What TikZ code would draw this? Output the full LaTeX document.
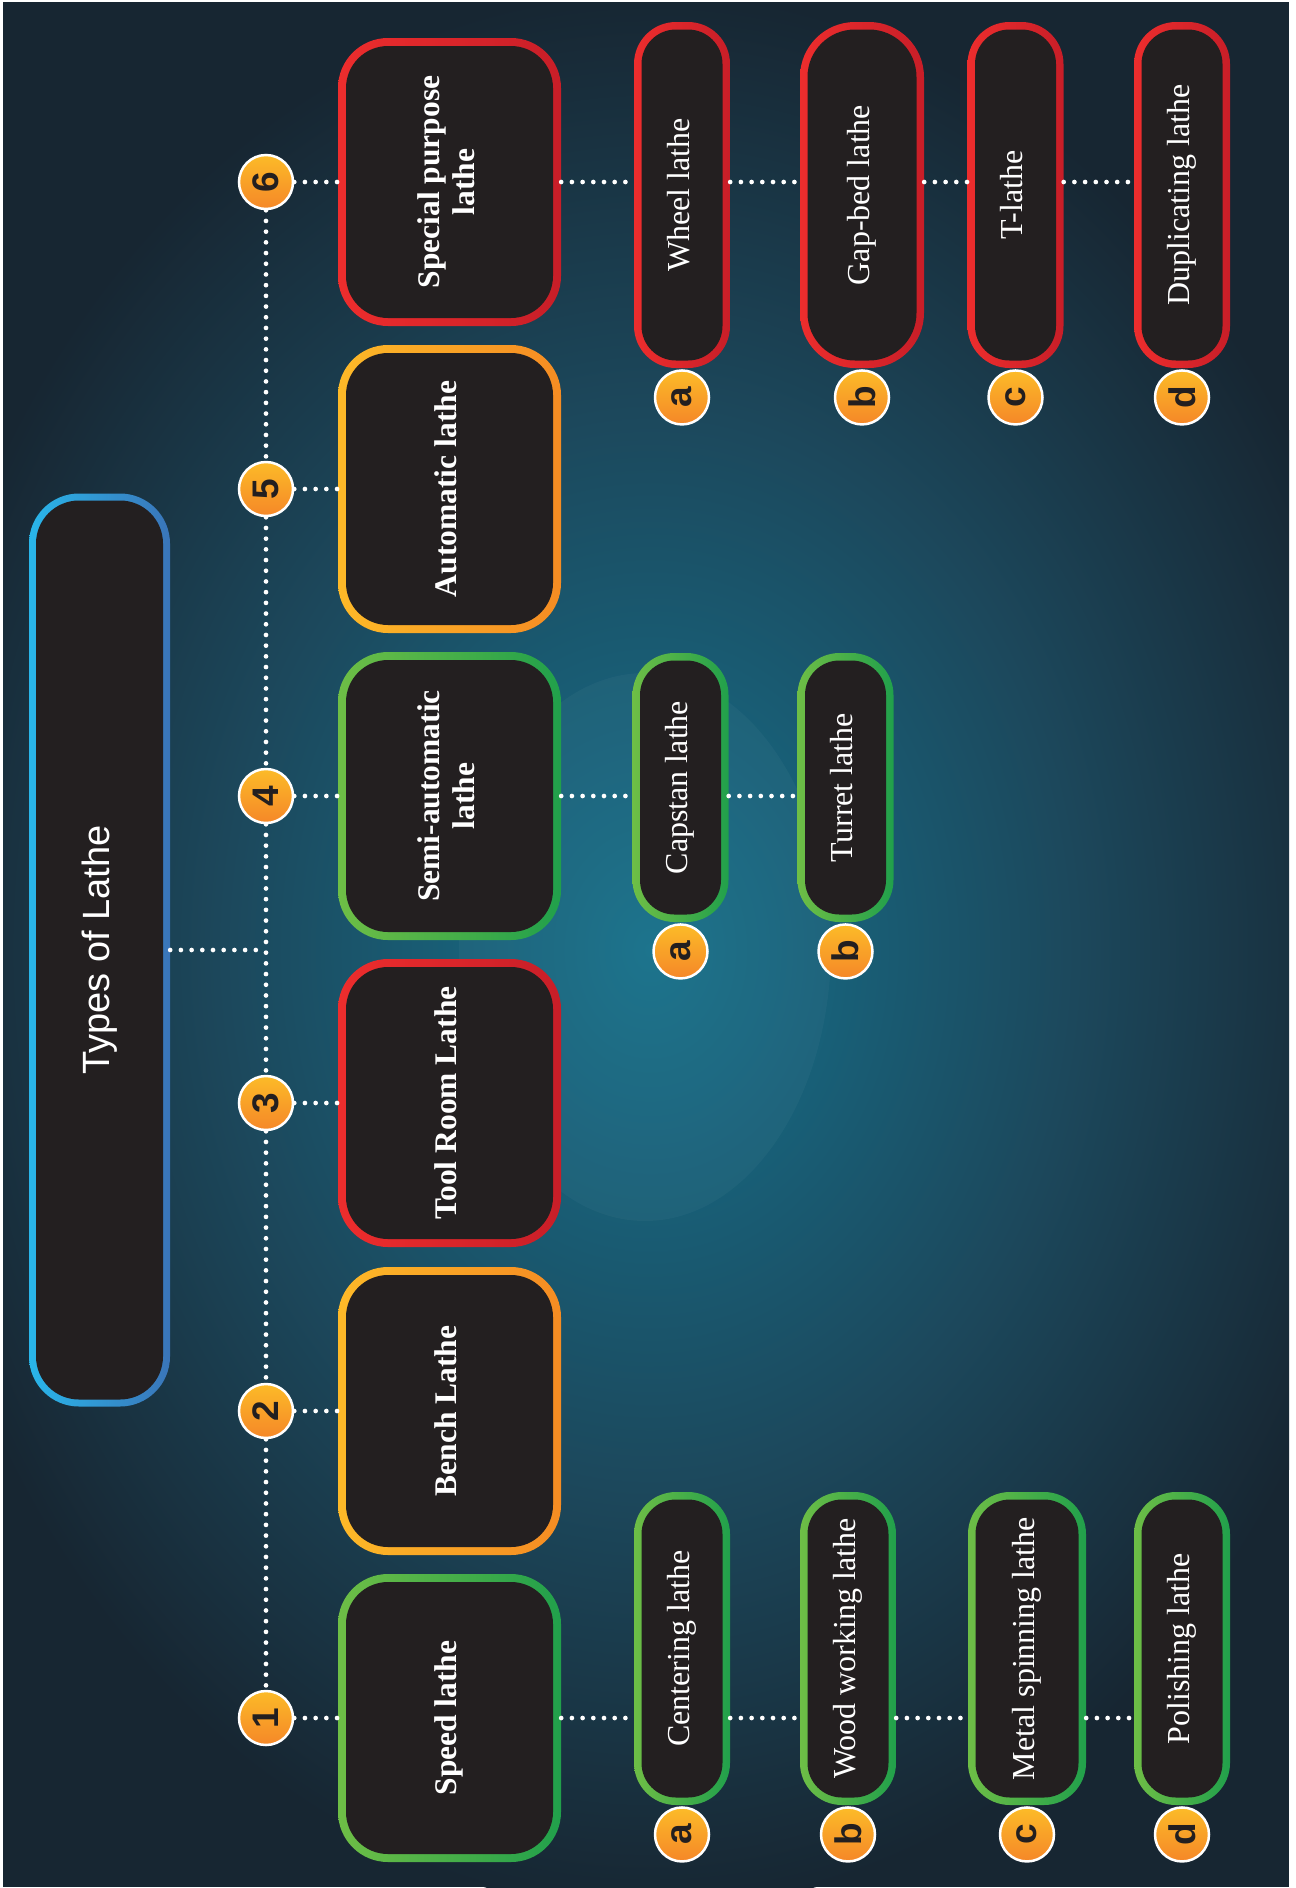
\documentclass[tikz,border=0pt]{standalone}
\usepackage{fontspec}
\usepackage{graphicx}
\setmainfont{Liberation Serif}
\newfontfamily\labelsans{Liberation Sans}
\usetikzlibrary{positioning}

\definecolor{boxfill}{RGB}{35,31,32}
\definecolor{bgdark}{RGB}{23,38,50}
\definecolor{glowA}{RGB}{22,112,138}
\definecolor{glowB}{RGB}{24,96,120}
\definecolor{glowC}{RGB}{28,72,92}
\definecolor{grnL}{RGB}{110,190,70}
\definecolor{grnR}{RGB}{33,160,75}
\definecolor{orgL}{RGB}{253,185,40}
\definecolor{orgR}{RGB}{245,140,35}
\definecolor{redL}{RGB}{237,45,45}
\definecolor{redR}{RGB}{200,30,40}
\definecolor{bluL}{RGB}{41,182,234}
\definecolor{bluR}{RGB}{58,117,185}
\definecolor{dotT}{RGB}{252,187,40}
\definecolor{dotB}{RGB}{245,135,40}

\pgfdeclareradialshading{glow}{\pgfpoint{0bp}{0bp}}{color(0bp)=(glowA); color(6bp)=(glowB); color(14bp)=(glowC); color(25bp)=(bgdark); color(50bp)=(bgdark)}

\newcommand{\vtext}[1]{\rotatebox{90}{\begin{tabular}{@{}c@{}}#1\end{tabular}}}

\tikzset{
  framed/.style n args={2}{rounded corners=#1,
    path picture={\fill[boxfill, rounded corners=#1-#2]
      ([shift={(#2,#2)}]path picture bounding box.south west) rectangle
      ([shift={(-#2,-#2)}]path picture bounding box.north east);}},
  greenedge/.style={left color=grnL, right color=grnR},
  orangeedge/.style={left color=orgL, right color=orgR},
  rededge/.style={left color=redL, right color=redR},
  blueedge/.style={left color=bluL, right color=bluR},
  titlebox/.style={rectangle, framed={50pt}{7pt}, blueedge, minimum width=141pt,
    minimum height=913pt, inner sep=0pt, text=white, font=\labelsans\fontsize{38}{44}\selectfont},
  catbox/.style={rectangle, framed={50pt}{8pt}, minimum width=223pt, minimum height=288pt,
    inner sep=0pt, text=white, font=\fontsize{31.5}{35}\selectfont\bfseries},
  subbox/.style={rectangle, framed={42pt}{7.5pt}, minimum width=96pt, inner sep=0pt,
    text=white, font=\fontsize{32}{36}\selectfont},
  numdot/.style={circle, draw=white, line width=2.5pt, top color=dotT, bottom color=dotB,
    minimum size=54pt, inner sep=0pt, text=boxfill, font=\labelsans\bfseries\fontsize{37}{37}\selectfont},
  dots/.style={draw=white, line width=4.7pt, line cap=round, dash pattern=on 0pt off 10.7pt},
}

\begin{document}
\begin{tikzpicture}[x=1pt, y=-1pt]
    \useasboundingbox (0,0) rectangle (1296,1888);
    \fill[white] (0,0) rectangle (1296,1888);
    \begin{scope}
      \clip (3,2) rectangle (1289,1887);
      \fill[bgdark] (3,2) rectangle (1289,1887);
      \shade[shading=glow] (650,950) ellipse [x radius=760, y radius=960];
      \fill[white, opacity=0.03] (645,947) ellipse [x radius=186, y radius=274];
    \end{scope}

    % title
    \node[titlebox] (title) at (99.5,950) {\rotatebox{90}{Types of Lathe}};
    \coordinate (hub) at (266,950);

    % main types
    \node[catbox, rededge] (special) at (449.5,182) {\vtext{Special purpose\\lathe}};
    \node[catbox, orangeedge] (automatic) at (449.5,489) {\vtext{Automatic lathe}};
    \node[catbox, greenedge] (semiauto) at (449.5,796) {\vtext{Semi-automatic\\lathe}};
    \node[catbox, rededge] (toolroom) at (449.5,1103) {\vtext{Tool Room Lathe}};
    \node[catbox, orangeedge] (bench) at (449.5,1411) {\vtext{Bench Lathe}};
    \node[catbox, greenedge] (speed) at (449.5,1718) {\vtext{Speed lathe}};

    \node[numdot] (n6) at (266,182) {\rotatebox{90}{6}};
    \node[numdot] (n5) at (266,489) {\rotatebox{90}{5}};
    \node[numdot] (n4) at (266,796) {\rotatebox{90}{4}};
    \node[numdot] (n3) at (266,1103) {\rotatebox{90}{3}};
    \node[numdot] (n2) at (266,1411) {\rotatebox{90}{2}};
    \node[numdot] (n1) at (266,1718) {\rotatebox{90}{1}};

    % special purpose lathes
    \node[subbox, rededge, minimum height=346pt] (wheel) at (682,195) {\vtext{Wheel lathe}};
    \node[subbox, rededge, minimum height=346pt, minimum width=124pt, framed={55pt}{7.5pt}] (gapbed) at (862,195) {\vtext{Gap-bed lathe}};
    \node[subbox, rededge, minimum height=346pt] (tlathe) at (1015.5,195) {\vtext{T-lathe}};
    \node[subbox, rededge, minimum height=346pt] (duplicating) at (1182,195) {\vtext{Duplicating lathe}};

    % semi-automatic lathes
    \node[subbox, greenedge, minimum height=269pt] (capstan) at (680.5,787.5) {\vtext{Capstan lathe}};
    \node[subbox, greenedge, minimum height=269pt] (turret) at (845.5,787.5) {\vtext{Turret lathe}};

    % speed lathes
    \node[subbox, greenedge, minimum height=313pt] (centering) at (682,1648.5) {\vtext{Centering lathe}};
    \node[subbox, greenedge, minimum height=313pt] (woodwork) at (848,1648.5) {\vtext{Wood working lathe}};
    \node[subbox, greenedge, minimum height=313pt, minimum width=118pt] (metalspin) at (1027,1648.5) {\vtext{Metal spinning lathe}};
    \node[subbox, greenedge, minimum height=313pt] (polishing) at (1182,1648.5) {\vtext{Polishing lathe}};

    \node[numdot, below=1pt of wheel] (wheelL) {\rotatebox{90}{a}};
    \node[numdot, below=1pt of gapbed] (gapbedL) {\rotatebox{90}{b}};
    \node[numdot, below=1pt of tlathe] (tlatheL) {\rotatebox{90}{c}};
    \node[numdot, below=1pt of duplicating] (duplicatingL) {\rotatebox{90}{d}};
    \node[numdot, below=1pt of capstan] (capstanL) {\rotatebox{90}{a}};
    \node[numdot, below=1pt of turret] (turretL) {\rotatebox{90}{b}};
    \node[numdot, below=1pt of centering] (centeringL) {\rotatebox{90}{a}};
    \node[numdot, below=1pt of woodwork] (woodworkL) {\rotatebox{90}{b}};
    \node[numdot, below=1pt of metalspin] (metalspinL) {\rotatebox{90}{c}};
    \node[numdot, below=1pt of polishing] (polishingL) {\rotatebox{90}{d}};

    \path (title) edge[dots] (hub);
    \path (n6) edge[dots] (n5);
    \path (n5) edge[dots] (n4);
    \path (n4) edge[dots] (n3);
    \path (n3) edge[dots] (n2);
    \path (n2) edge[dots] (n1);

    \path (n6) edge[dots] (special);
    \path (n5) edge[dots] (automatic);
    \path (n4) edge[dots] (semiauto);
    \path (n3) edge[dots] (toolroom);
    \path (n2) edge[dots] (bench);
    \path (n1) edge[dots] (speed);

    \path (special) edge[dots] (special -| wheel.west);
    \path (wheel.east |- special) edge[dots] (special -| gapbed.west);
    \path (gapbed.east |- special) edge[dots] (special -| tlathe.west);
    \path (tlathe.east |- special) edge[dots] (special -| duplicating.west);

    \path (semiauto) edge[dots] (semiauto -| capstan.west);
    \path (capstan.east |- semiauto) edge[dots] (semiauto -| turret.west);

    \path (speed) edge[dots] (speed -| centering.west);
    \path (centering.east |- speed) edge[dots] (speed -| woodwork.west);
    \path (woodwork.east |- speed) edge[dots] (speed -| metalspin.west);
    \path (metalspin.east |- speed) edge[dots] (speed -| polishing.west);
  \end{tikzpicture}
\end{document}
